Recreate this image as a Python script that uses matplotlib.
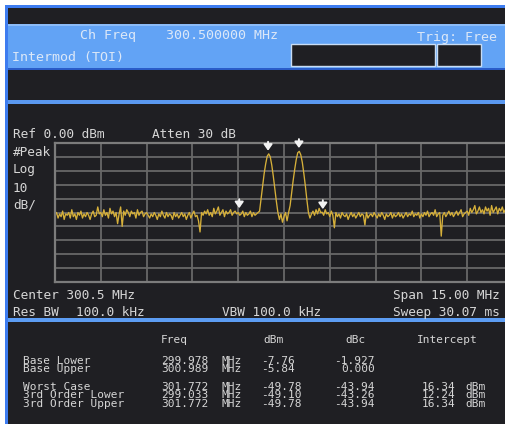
import matplotlib
matplotlib.use('Agg')
import matplotlib.pyplot as plt
import numpy as np
from matplotlib.patches import Rectangle

# ---------------- data ----------------
start_mhz = 293.0
stop_mhz = 308.0
ref_level = 0.0
db_per_div = 10

# trace, dBm, 301 sweep points (0.05 MHz step)
trace_dbm = [
    -52, -50, -54, -51, -53, -49, -55, -51, -52, -50, -54, -48, -53, -51, -55, -50, -52, -49, -54, -51,
    -53, -50, -52, -55, -51, -49, -53, -52, -46, -51, -50, -53, -48, -52, -50, -54, -47, -51, -49, -53,
    -50, -58, -51, -46, -60, -49, -52, -48, -50, -53, -49, -51, -50, -54, -48, -52, -50, -49, -53, -51,
    -50, -52, -54, -51, -53, -50, -52, -55, -51, -53, -49, -52, -54, -50, -53, -51, -52, -55, -50, -53,
    -51, -54, -52, -50, -53, -51, -55, -52, -50, -54, -51, -49, -53, -52, -56, -64, -50, -52, -49, -51,
    -48, -52, -50, -53, -47, -51, -49, -46, -52, -50, -48, -53, -49, -51, -50, -48, -52, -50, -49, -51,
    -50, -52, -51, -49, -53, -50, -52, -51, -49, -53, -50, -52, -51, -50, -49, -40, -31, -22, -15, -9.5,
    -7.8, -10, -16, -24, -33, -42, -50, -55, -51, -57, -53, -50, -56, -50, -45, -36, -27, -19, -12, -7,
    -6.0, -8.5, -14, -22, -31, -41, -50, -54, -51, -49, -52, -48, -51, -47, -50, -49.8, -52, -48, -51, -50,
    -53, -49, -52, -61, -50, -53, -51, -54, -50, -52, -53, -51, -55, -52, -50, -53, -51, -54, -52, -50,
    -53, -51, -52, -59, -50, -54, -52, -51, -53, -50, -52, -54, -51, -53, -50, -52, -55, -51, -53, -52,
    -50, -54, -51, -53, -52, -50, -53, -51, -54, -52, -50, -53, -51, -52, -49, -53, -51, -52, -50, -54,
    -51, -53, -50, -52, -49, -53, -51, -50, -52, -48, -53, -51, -50, -67, -52, -50, -53, -51, -49, -52,
    -50, -53, -51, -49, -52, -50, -48, -53, -51, -50, -49, -52, -47, -50, -48, -45, -51, -49, -46, -50,
    -48, -51, -46, -49, -47, -52, -45, -50, -48, -46, -51, -47, -49, -46, -50, -48, -47, -50, -49, -48, -51,
]

# marker readouts
marker_freqs = [299.978, 300.989, 299.033, 301.772]
marker_levels = [-7.76, -5.84, -49.10, -49.78]

# result table
row_labels = ['Base Lower', 'Base Upper', 'Worst Case', '3rd Order Lower', '3rd Order Upper']
row_freqs = ['299.978', '300.989', '301.772', '299.033', '301.772']
row_dbm = ['-7.76', '-5.84', '-49.78', '-49.10', '-49.78']
row_dbc = ['-1.927', '0.000', '-43.94', '-43.26', '-43.94']
row_intercept = ['', '', '16.34', '12.24', '16.34']

# ---------------- style ----------------
W, H = 505, 424
dark = '#1f1f23'
band = '#62a3f5'
edge_blue = '#3d7cf0'
grid_col = '#686868'
txt = '#d6d6d6'
band_txt = '#dce8f8'
trace_col = '#d6b03a'
mono = 'DejaVu Sans Mono'

fig = plt.figure(figsize=(W / 100, H / 100), dpi=100)
fig.patch.set_facecolor('white')

# background canvas in pixel coordinates (y down)
bg = fig.add_axes([0, 0, 1, 1])
bg.set_xlim(0, W)
bg.set_ylim(H, 0)
bg.axis('off')


def rect(x0, y0, x1, y1, color, **kw):
    bg.add_patch(Rectangle((x0, y0), x1 - x0, y1 - y0, facecolor=color,
                           edgecolor=kw.pop('ec', 'none'), lw=kw.pop('lw', 0), **kw))


def label(x, y, s, size=9.2, color=txt, ha='left'):
    bg.text(x, y, s, fontsize=size, color=color, family=mono, ha=ha, va='baseline')


rect(5, 5, W, H, edge_blue)          # outer blue frame
rect(8, 8, W, 24, dark)
rect(8, 24, W, 68, band)
rect(8, 24, W, 25.5, '#8cbcf8')
rect(8, 68, W, 70, '#2a5cc8')
rect(8, 70, W, 100, dark)
rect(8, 100, W, 104, '#5a98f0')
rect(8, 104, W, 318, dark)
rect(8, 318, W, 322, '#5c9cf2')
rect(8, 322, W, H, dark)

# header boxes
rect(291, 44, 435, 66, dark, ec='#c8dcf4', lw=1)
rect(437, 44, 481, 66, dark, ec='#c8dcf4', lw=1)

# header text
label(80, 39, 'Ch Freq', size=9.6, color=band_txt)
label(166, 39, '300.500000 MHz', size=9.6, color=band_txt)
label(417, 41, 'Trig: Free', size=9.6, color=band_txt)
label(12, 61.5, 'Intermod (TOI)', size=9.6, color=band_txt)

# screen annotations
label(13, 138.5, 'Ref 0.00 dBm')
label(152, 138.5, 'Atten 30 dB')
label(13, 156, '#Peak')
label(13, 172.5, 'Log')
label(13, 191.5, '10')
label(13, 209, 'dB/')
label(13, 299, 'Center 300.5 MHz')
label(393, 299, 'Span 15.00 MHz')
label(13, 316, 'Res BW')
label(76, 316, '100.0 kHz')
label(222, 316, 'VBW 100.0 kHz')
label(393, 316, 'Sweep 30.07 ms')

# ---------------- spectrum ----------------
gx0, gx1, gy0, gy1 = 55, 513, 143, 282
ax = fig.add_axes([gx0 / W, 1 - gy1 / H, (gx1 - gx0) / W, (gy1 - gy0) / H])
ax.set_facecolor(dark)
freqs = np.linspace(start_mhz, stop_mhz, len(trace_dbm))
ax.plot(freqs, trace_dbm, color=trace_col, lw=0.95)
ax.set_xlim(start_mhz, stop_mhz)
ax.set_ylim(ref_level - 10 * db_per_div, ref_level)
ax.set_xticks(np.linspace(start_mhz, stop_mhz, 11))
ax.set_yticks(np.arange(ref_level - 10 * db_per_div, ref_level + 1, db_per_div))
ax.tick_params(length=0, labelbottom=False, labelleft=False)
ax.grid(True, color=grid_col, lw=1.3)
ax.set_axisbelow(True)
for sp in ax.spines.values():
    sp.set_color('#7c7c7c')
    sp.set_linewidth(1.6)

# marker arrows: short white stem with a small head, just above the marker point
for f, lv in zip(marker_freqs, marker_levels):
    ax.annotate('', xy=(f, lv), xytext=(0, 12), textcoords='offset pixels',
                arrowprops=dict(arrowstyle='-|>,head_width=0.32,head_length=0.45',
                                color='#f2f2f2', lw=1.4, shrinkA=0, shrinkB=2.2,
                                mutation_scale=8),
                annotation_clip=False)

# ---------------- result table ----------------
ts = 8.0
label(161, 343, 'Freq', size=ts)
label(263, 343, 'dBm', size=ts)
label(345, 343, 'dBc', size=ts)
label(417, 343, 'Intercept', size=ts)

row_base = [364, 372.3, 390, 398.3, 406.6]
for y, name, fq, dbm, dbc, ip in zip(row_base, row_labels, row_freqs, row_dbm,
                                     row_dbc, row_intercept):
    label(23, y, name, size=ts)
    label(161, y, fq, size=ts)
    label(221, y, 'MHz', size=ts)
    label(261, y, dbm, size=ts)
    label(375, y, dbc, size=ts, ha='right')
    if ip:
        label(422, y, ip, size=ts)
        label(465, y, 'dBm', size=ts)

fig.savefig('out.png', dpi=100, facecolor=fig.get_facecolor())
